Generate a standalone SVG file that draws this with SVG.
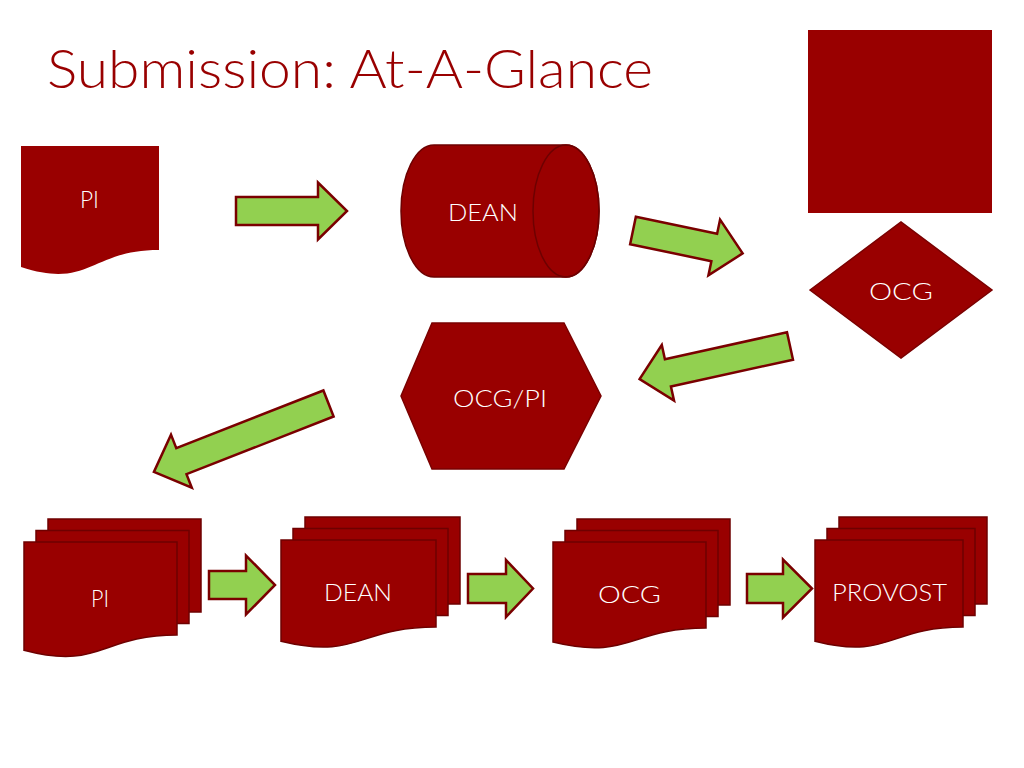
<svg xmlns="http://www.w3.org/2000/svg" width="1024" height="768" viewBox="0 0 1024 768">
<style>
.shape{fill:#990000}
.sheet{fill:#990000;stroke:#6E0000;stroke-width:1.5}
.lbl{fill:#FFFFFF;font-family:Lato,"Liberation Sans","DejaVu Sans",sans-serif;font-weight:300;font-size:24px;text-anchor:middle}
.title{fill:#990000;font-family:Lato,"Liberation Sans","DejaVu Sans",sans-serif;font-weight:300;font-size:53px}
.arrow{fill:#92D050;stroke:#7A0000;stroke-width:2.5;stroke-linejoin:miter}
</style>
<rect width="1024" height="768" fill="#FFFFFF"/>
<text class="title" x="47" y="88" textLength="606" lengthAdjust="spacingAndGlyphs">Submission: At-A-Glance</text>

<g id="square">
<rect class="shape" x="808" y="30" width="184" height="183"/>
</g>

<g id="pi-top">
<path class="shape" d="M21,146 H159 V250 C90,250 90,289.6 21,267.1 Z"/>
<text class="lbl" x="89.5" y="208" textLength="19" lengthAdjust="spacingAndGlyphs">PI</text>
</g>

<g id="dean-top">
<path class="shape" stroke="#6E0000" stroke-width="1.5" d="M434,145 H566 A33,66 0 0 1 566,277 H434 A33,66 0 0 1 434,145 Z"/>
<ellipse cx="566" cy="211" rx="33" ry="66" fill="none" stroke="#6E0000" stroke-width="1.5"/>
<text class="lbl" x="483" y="221" textLength="70" lengthAdjust="spacingAndGlyphs">DEAN</text>
</g>

<g id="ocg-diamond">
<polygon class="shape" stroke="#7A0000" stroke-width="1.5" points="810,290 901,222 992,290 901,358"/>
<text class="lbl" x="901" y="300" textLength="64" lengthAdjust="spacingAndGlyphs">OCG</text>
</g>

<g id="ocgpi-hex">
<polygon class="shape" stroke="#7A0000" stroke-width="1.5" points="401,396 432,323 564,323 601,396 564,469 432,469"/>
<text class="lbl" x="500" y="407" textLength="94" lengthAdjust="spacingAndGlyphs">OCG/PI</text>
</g>

<g id="pi-stack">
<rect class="sheet" x="48" y="519" width="153" height="93"/>
<rect class="sheet" x="36" y="530.5" width="153" height="93"/>
<path class="sheet" d="M24,542 H177 V635 C100.5,635 100.5,670.5 24,650.3 Z"/>
<text class="lbl" x="100" y="607" textLength="18" lengthAdjust="spacingAndGlyphs">PI</text>
</g>

<g id="dean-stack">
<rect class="sheet" x="305" y="517" width="155" height="87"/>
<rect class="sheet" x="293" y="528.5" width="155" height="87"/>
<path class="sheet" d="M281,540 H436 V627 C358.5,627 358.5,660.2 281,641.3 Z"/>
<text class="lbl" x="358" y="601" textLength="68" lengthAdjust="spacingAndGlyphs">DEAN</text>
</g>

<g id="ocg-stack">
<rect class="sheet" x="577" y="519" width="153" height="86"/>
<rect class="sheet" x="565" y="530.5" width="153" height="86"/>
<path class="sheet" d="M553,542 H706 V628 C629.5,628 629.5,660.7 553,642.1 Z"/>
<text class="lbl" x="629.5" y="603" textLength="63" lengthAdjust="spacingAndGlyphs">OCG</text>
</g>

<g id="provost-stack">
<rect class="sheet" x="839" y="517" width="148" height="87"/>
<rect class="sheet" x="827" y="528.5" width="148" height="87"/>
<path class="sheet" d="M815,540 H963 V627 C889,627 889,660.2 815,641.3 Z"/>
<text class="lbl" x="889.5" y="601" textLength="115" lengthAdjust="spacingAndGlyphs">PROVOST</text>
</g>

<g id="connectors">
<polygon class="arrow" points="236,197 318,197 318,182.5 347,211 318,239.5 318,225 236,225"/>
<polygon class="arrow" transform="translate(633,230.5) rotate(11.8)" points="0,-14 83,-14 83,-28.5 112,0 83,28.5 83,14 0,14"/>
<polygon class="arrow" transform="translate(790,346) rotate(167.6)" points="0,-14 125,-14 125,-28.5 154,0 125,28.5 125,14 0,14"/>
<polygon class="arrow" transform="translate(328.5,403.5) rotate(158.6)" points="0,-14 158,-14 158,-28.5 187.5,0 158,28.5 158,14 0,14"/>
<polygon class="arrow" points="209,571 246,571 246,555.5 275,585 246,614.5 246,599 209,599"/>
<polygon class="arrow" points="468,574 506,574 506,560 533,588.5 506,617 506,603 468,603"/>
<polygon class="arrow" points="747,574 783,574 783,559.5 812,588.5 783,617.5 783,603 747,603"/>
</g>
</svg>
